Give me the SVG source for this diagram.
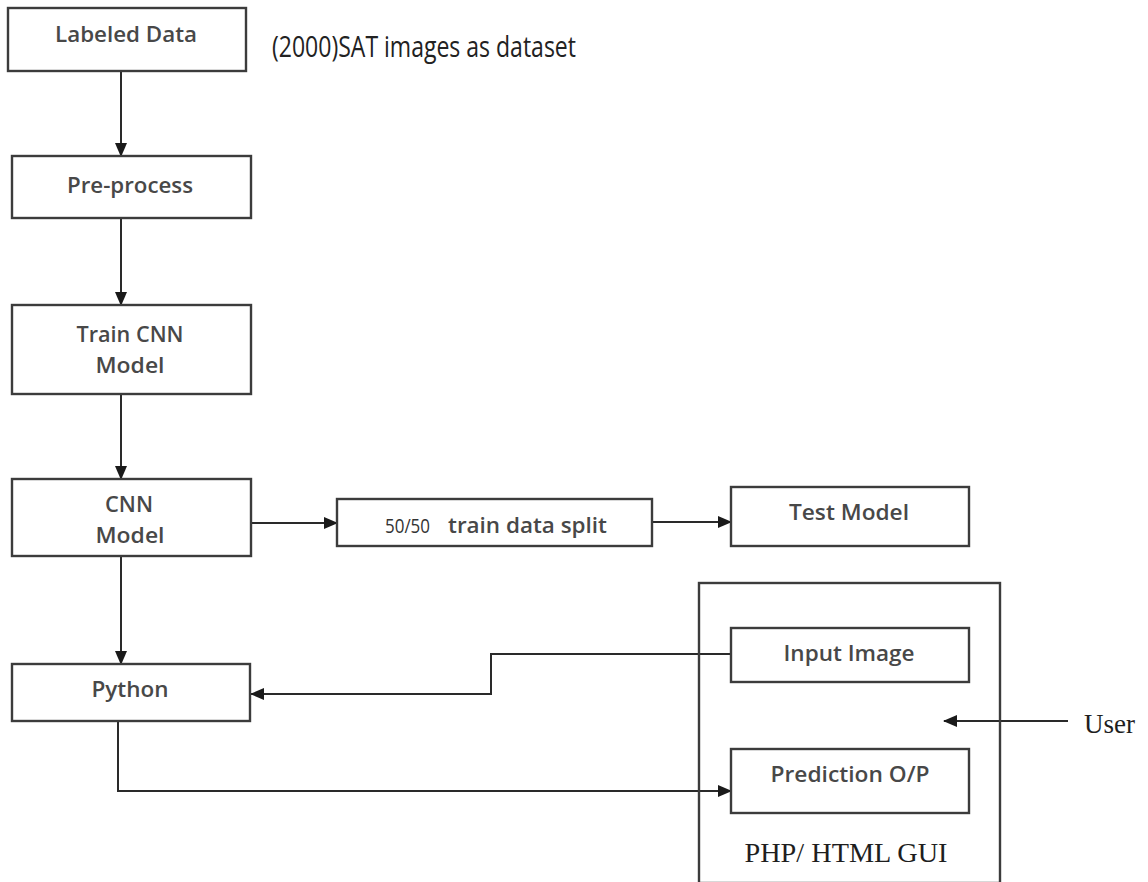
<svg xmlns="http://www.w3.org/2000/svg" width="1148" height="882" viewBox="0 0 1148 882">
<style>
.box{fill:#fff;stroke:#3c3c3c;stroke-width:2.4}
.lbl{font-family:"Open Sans","Noto Sans",sans-serif;font-size:22px;font-weight:600;fill:#484848;text-anchor:middle}
.ser{font-family:"Liberation Serif","DejaVu Serif",serif;fill:#1e1e1e}
.con{fill:none;stroke:#2a2a2a;stroke-width:2}
</style>
<defs>
<marker id="ah" markerWidth="14" markerHeight="12" refX="13" refY="6" orient="auto" markerUnits="userSpaceOnUse">
<path d="M0,0 L14,6 L0,12 Z" fill="#1a1a1a"/>
</marker>
</defs>
<rect width="1148" height="882" fill="#fff"/>

<g id="connectors">
<line class="con" x1="121" y1="71" x2="121" y2="156" marker-end="url(#ah)"/>
<line class="con" x1="121" y1="218" x2="121" y2="305" marker-end="url(#ah)"/>
<line class="con" x1="121" y1="394" x2="121" y2="479" marker-end="url(#ah)"/>
<line class="con" x1="251" y1="523" x2="337" y2="523" marker-end="url(#ah)"/>
<line class="con" x1="652" y1="522" x2="731" y2="522" marker-end="url(#ah)"/>
<line class="con" x1="121" y1="556" x2="121" y2="664" marker-end="url(#ah)"/>
<polyline class="con" points="731,654 491,654 491,694 251,694" marker-end="url(#ah)"/>
<polyline class="con" points="118,721 118,791 731,791" marker-end="url(#ah)"/>
<line class="con" x1="1068" y1="721" x2="944" y2="721" marker-end="url(#ah)"/>
</g>

<g id="gui">
<rect class="box" x="699" y="583" width="301" height="300" style="fill:none"/>
<text class="ser" x="846" y="862" font-size="28" text-anchor="middle" textLength="203" lengthAdjust="spacingAndGlyphs">PHP/ HTML GUI</text>
</g>

<g id="labeled-data">
<rect class="box" x="8" y="8" width="238" height="63"/>
<text class="lbl" x="126" y="42" textLength="142" lengthAdjust="spacingAndGlyphs">Labeled Data</text>
</g>
<g id="dataset-note">
<text x="272" y="57" font-family="'Open Sans','Noto Sans',sans-serif" font-size="30" fill="#222" textLength="304" lengthAdjust="spacingAndGlyphs">(2000)SAT images as dataset</text>
</g>
<g id="pre-process">
<rect class="box" x="12" y="156" width="239" height="62"/>
<text class="lbl" x="130" y="193" textLength="126" lengthAdjust="spacingAndGlyphs">Pre-process</text>
</g>
<g id="train-cnn">
<rect class="box" x="12" y="305" width="239" height="89"/>
<text class="lbl" x="130" y="342" textLength="107" lengthAdjust="spacingAndGlyphs">Train CNN</text>
<text class="lbl" x="130" y="373" textLength="69" lengthAdjust="spacingAndGlyphs">Model</text>
</g>
<g id="cnn-model">
<rect class="box" x="12" y="479" width="239" height="77"/>
<text class="lbl" x="129" y="512" textLength="48" lengthAdjust="spacingAndGlyphs">CNN</text>
<text class="lbl" x="130" y="543" textLength="69" lengthAdjust="spacingAndGlyphs">Model</text>
</g>
<g id="split">
<rect class="box" x="337" y="499" width="315" height="47"/>
<text x="385" y="533" font-family="'Open Sans','Noto Sans',sans-serif" font-size="20" fill="#333" textLength="45" lengthAdjust="spacingAndGlyphs">50/50</text>
<text x="448" y="533" font-family="'Open Sans','Noto Sans',sans-serif" font-size="22" font-weight="600" fill="#484848" textLength="159" lengthAdjust="spacingAndGlyphs">train data split</text>
</g>
<g id="test-model">
<rect class="box" x="731" y="487" width="238" height="59"/>
<text class="lbl" x="849" y="520" textLength="120" lengthAdjust="spacingAndGlyphs">Test Model</text>
</g>
<g id="python">
<rect class="box" x="12" y="664" width="238" height="57"/>
<text class="lbl" x="130" y="697" textLength="77" lengthAdjust="spacingAndGlyphs">Python</text>
</g>
<g id="input-image">
<rect class="box" x="731" y="628" width="238" height="54"/>
<text class="lbl" x="849" y="661" textLength="131" lengthAdjust="spacingAndGlyphs">Input Image</text>
</g>
<g id="prediction">
<rect class="box" x="731" y="749" width="238" height="64"/>
<text class="lbl" x="850" y="782" textLength="159" lengthAdjust="spacingAndGlyphs">Prediction O/P</text>
</g>
<g id="user">
<text class="ser" x="1084" y="733" font-size="28" textLength="51" lengthAdjust="spacingAndGlyphs">User</text>
</g>
</svg>
